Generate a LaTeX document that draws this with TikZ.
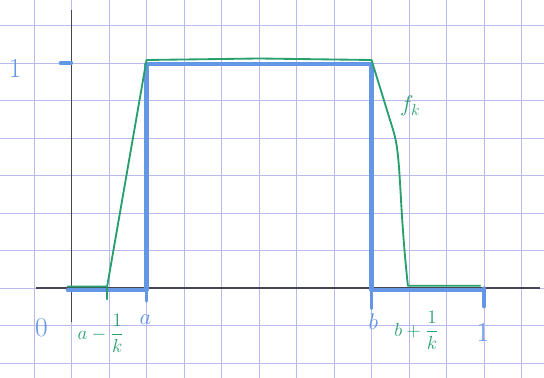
\documentclass[tikz,border=0pt]{standalone}
\usepackage{amsmath}
\usepackage{tikz}
\definecolor{penblue}{RGB}{100,150,230}
\definecolor{pengreen}{RGB}{40,160,110}
\definecolor{papergrid}{RGB}{185,185,235}
\definecolor{pencil}{RGB}{70,70,80}
\tikzset{gridline/.style={draw=papergrid,line width=0.7pt},
    axisline/.style={draw=pencil,line width=1.2pt},
    bluefn/.style={draw=penblue,line width=3.2pt,line join=round,line cap=round},
    greenfn/.style={draw=pengreen,line width=1.4pt,line join=round,line cap=round},
    bluelabel/.style={text=penblue,font=\LARGE,inner sep=0},
    greenlabel/.style={text=pengreen,font=\Large,inner sep=0}
}

\begin{document}
\begin{tikzpicture}
\useasboundingbox (-1.907,-2.4) rectangle (12.6,7.68);
\fill[white] (-1.907,-2.4) rectangle (12.6,7.68);
\draw[gridline] (-1.907,-2.4) grid (12.6,7.68);

% axes
\coordinate (xstart) at (-0.95,0);
\coordinate (xend) at (12.5,0);
\coordinate (ystart) at (0,-0.9);
\coordinate (yend) at (0,7.4);
\draw[axisline] (xstart) -- (xend);
\draw[axisline] (ystart) -- (yend);

% points on the x axis
\coordinate (am) at (0.95,0);
\coordinate (a) at (2,0);
\coordinate (b) at (8,0);
\coordinate (bp) at (8.97,0);
\coordinate (one) at (11,0);

% indicator of [a,b]
\draw[bluefn] (-0.1,-0.05) -- ([yshift=-0.05cm]a) -- (2,5.97) -- (8,5.97) -- ([yshift=-0.05cm]b) -- ([yshift=-0.05cm]one);

% f_k
\draw[greenfn] (-0.1,0.04) -- ([yshift=0.04cm]am) -- (2,6.08) -- (5,6.12) -- (8,6.08) -- (8.58,4.2)
    .. controls (8.8,3.5) and (8.72,2.4) .. ([yshift=0.06cm]bp) -- (10.9,0.06);

% tick marks
\draw[bluefn,line width=2.4pt] (-0.3,6) -- (0,6);
\foreach \p/\d in {a/0.35,b/0.55,one/0.5}
    \draw[bluefn,line width=2.4pt] (\p) -- ++(0,-\d);
\draw[greenfn] (am) -- ++(0,-0.3);

% labels
\node (lblone) at (-1.5,5.85) [bluelabel,font=\huge] {$1$};
\node (lblzero) at (-0.8,-1.07) [bluelabel,font=\huge] {$0$};
\node (lblam) at (0.78,-1.2) [greenlabel] {$a-\dfrac{1}{k}$};
\node (lbla) at (1.97,-0.85) [bluelabel] {$a$};
\node (lblb) at (8.05,-0.9) [bluelabel] {$b$};
\node (lblbp) at (9.2,-1.12) [greenlabel] {$b+\dfrac{1}{k}$};
\node (lblright) at (10.97,-1.2) [bluelabel,font=\huge] {$1$};
\node (lblfk) at (9.03,4.85) [greenlabel,font=\LARGE] {$f_k$};

\end{tikzpicture}
\end{document}
